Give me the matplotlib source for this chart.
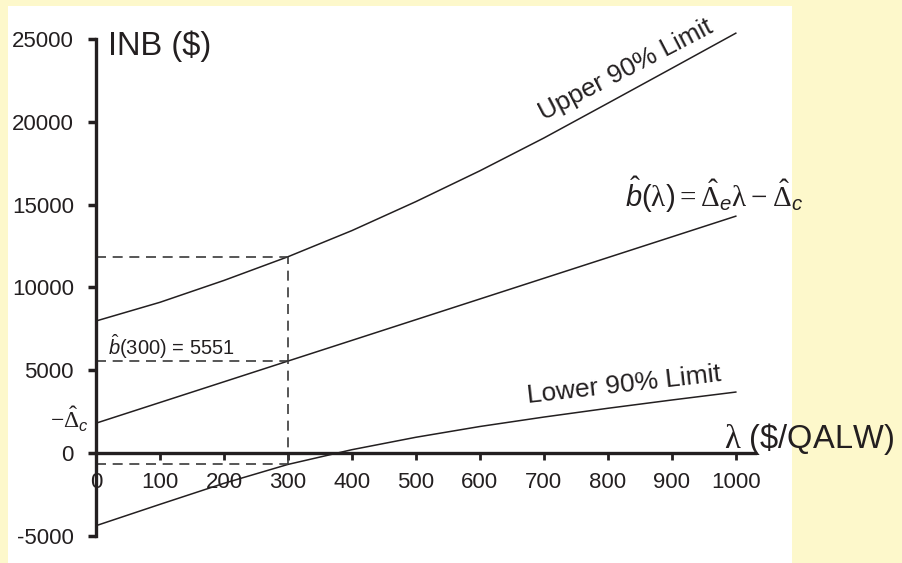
import matplotlib
matplotlib.use("Agg")
import matplotlib.pyplot as plt
from matplotlib.patches import Rectangle

# values (INB in $ vs lambda in $/QALW)
lam = [0, 100, 200, 300, 400, 500, 600, 700, 800, 900, 1000]
inb_mid = [1800, 3050, 4300, 5551, 6800, 8050, 9300, 10550, 11800, 13050, 14300]
inb_upper = [7970, 9100, 10420, 11850, 13430, 15180, 17040, 19020, 21120, 23230, 25350]
inb_lower = [-4390, -3100, -1830, -690, 200, 950, 1600, 2170, 2700, 3200, 3680]

x_ticks = [0, 100, 200, 300, 400, 500, 600, 700, 800, 900, 1000]
y_ticks = [-5000, 0, 5000, 10000, 15000, 20000, 25000]
y_labels = ["-5000", "0", "5000", "10000", "15000", "20000", "25000"]

ink = "#231f20"
plt.rcParams["font.family"] = ["Liberation Sans", "DejaVu Sans"]
plt.rcParams["mathtext.fontset"] = "custom"
plt.rcParams["mathtext.rm"] = "Liberation Serif"
plt.rcParams["mathtext.it"] = "Liberation Sans:italic"
plt.rcParams["mathtext.sf"] = "Liberation Sans"

fig = plt.figure(figsize=(9.03, 5.63), dpi=100, facecolor="#fdf8cb")
fig.patches.append(Rectangle((8 / 903, 0), 784 / 903, 557 / 563,
                             transform=fig.transFigure, facecolor="white",
                             edgecolor="none", zorder=-1))

ax = fig.add_axes([96 / 903, 1 - 535.8 / 563, 659 / 903, 505.1 / 563])
ax.patch.set_alpha(0)
ax.set_xlim(0, 1030)
ax.set_ylim(-5000, 25500)

for s in ["top", "right"]:
    ax.spines[s].set_visible(False)
ax.spines["bottom"].set_position(("data", 0))
ax.spines["left"].set_bounds(-5000, 25000)
for s in ["bottom", "left"]:
    ax.spines[s].set_linewidth(2.4)
    ax.spines[s].set_color(ink)

ax.set_xticks(x_ticks)
ax.set_xticklabels([str(v) for v in x_ticks])
ax.set_yticks(y_ticks)
ax.set_yticklabels(y_labels)
ax.tick_params(axis="x", direction="out", length=5, width=2, pad=9,
               labelsize=16, colors=ink)
ax.tick_params(axis="y", direction="out", length=6, width=2.5, pad=10,
               labelsize=16, colors=ink)

# the three curves
ax.plot(lam, inb_upper, color=ink, lw=1.1, clip_on=False)
ax.plot(lam, inb_mid, color=ink, lw=1.1)
ax.plot(lam, inb_lower, color=ink, lw=1.1)

# dashed guides at lambda = 300
i = lam.index(300)
dash = dict(color="#3a3a3a", lw=1.2, dashes=(6, 4))
ax.plot([300, 300], [inb_lower[i], inb_upper[i]], **dash)
for v in [inb_upper[i], inb_mid[i], inb_lower[i]]:
    ax.plot([0, 300], [v, v], **dash)

# labels
ax.text(19, 24034, "INB ($)", fontsize=23.5, color=ink, clip_on=False)
ax.text(981, 302, r"$\mathrm{\lambda}$ (\$/QALW)", fontsize=23.5, color=ink,
        clip_on=False)
ax.text(699, 20050, "Upper 90% Limit", fontsize=18.8, color=ink,
        rotation=27.5, rotation_mode="anchor")
ax.text(675, 3020, "Lower 90% Limit", fontsize=19, color=ink,
        rotation=6.5, rotation_mode="anchor")
ax.text(827, 14855,
        r"$\hat{b}\mathsf{(}\mathrm{\lambda}\mathsf{)} = \hat{\Delta}_e\mathrm{\lambda} - \hat{\Delta}_c$",
        fontsize=21, color=ink, clip_on=False)
ax.text(19, 5918, r"$\hat{b}$(300) = 5551", fontsize=14.5, color=ink)
ax.text(-12, 1500, r"$-\hat{\Delta}_c$", fontsize=17, color=ink,
        ha="right", clip_on=False)

fig.savefig("out.png", dpi=100, facecolor=fig.get_facecolor())
